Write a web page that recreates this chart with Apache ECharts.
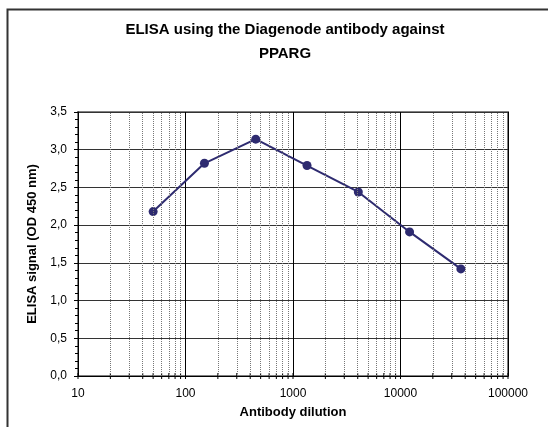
<!DOCTYPE html>
<html>
<head>
<meta charset="utf-8">
<script src="https://cdn.jsdelivr.net/npm/echarts@6/dist/echarts.min.js"></script>
<style>
    html, body { margin: 0; padding: 0; background: #fff; }
    #chart { width: 548px; height: 427px; }
</style>
</head>
<body>
<div id="chart"></div>
<script>
(function () {
    'use strict';

    var dilutions = [50, 150, 450, 1350, 4050, 12150, 36450];
    var signal = [2.18, 2.82, 3.14, 2.79, 2.44, 1.91, 1.42];
    var decades = [10, 100, 1000, 10000, 100000];
    var minorSteps = [2, 3, 4, 5, 6, 7, 8, 9];

    var FONT = 'Liberation Sans';
    var LINE_COLOR = '#2e2b70';

    var minorValues = [];
    for (var i = 0; i < decades.length - 1; i++) {
        for (var j = 0; j < minorSteps.length; j++) {
            minorValues.push(decades[i] * minorSteps[j]);
        }
    }
    var tickValues = decades.concat(minorValues);

    var chart = echarts.init(document.getElementById('chart'), null, {renderer: 'canvas'});

    var option = {
        animation: false,
        backgroundColor: '#fff',
        title: {
            text: 'ELISA using the Diagenode antibody against\nPPARG',
            left: 285,
            top: 18,
            padding: 0,
            textAlign: 'center',
            textStyle: {
                fontFamily: FONT,
                fontSize: 15,
                fontWeight: 'bold',
                color: '#000',
                lineHeight: 24
            }
        },
        graphic: [{
            type: 'rect',
            silent: true,
            shape: {x: 7.5, y: 9.5, width: 700, height: 500},
            style: {fill: null, stroke: '#333', lineWidth: 2}
        }],
        grid: {
            left: 78,
            right: 40,
            top: 112,
            bottom: 51,
            show: true,
            borderColor: '#808080',
            borderWidth: 2
        },
        xAxis: {
            type: 'log',
            logBase: 10,
            min: 10,
            max: 100000,
            name: 'Antibody dilution',
            nameLocation: 'middle',
            nameGap: 30,
            nameTextStyle: {fontFamily: FONT, fontSize: 13, fontWeight: 'bold', color: '#000'},
            axisLine: {lineStyle: {color: '#000', width: 1}},
            axisTick: {show: false},
            axisLabel: {
                fontFamily: FONT,
                fontSize: 12,
                color: '#000',
                margin: 12,
                formatter: function (v) { return String(Math.round(v)); }
            },
            splitLine: {show: true, lineStyle: {color: '#000', width: 1}}
        },
        yAxis: {
            type: 'value',
            min: 0,
            max: 3.5,
            interval: 0.5,
            name: 'ELISA signal (OD 450 nm)',
            nameLocation: 'middle',
            nameGap: 34,
            nameTextStyle: {fontFamily: FONT, fontSize: 13, fontWeight: 'bold', color: '#000'},
            axisLine: {show: true, lineStyle: {color: '#000', width: 1}},
            axisTick: {show: true, length: 4, lineStyle: {color: '#000'}},
            minorTick: {show: true, splitNumber: 5, length: 3, lineStyle: {color: '#000'}},
            axisLabel: {
                fontFamily: FONT,
                fontSize: 12,
                color: '#000',
                margin: 11,
                formatter: function (v) {
                    return v.toFixed(1).replace('.', ',');
                }
            },
            splitLine: {show: true, lineStyle: {color: '#333', width: 1}}
        },
        series: [
            {
                type: 'custom',
                silent: true,
                clip: false,
                z: 1,
                data: tickValues.map(function (v) { return [v, 0]; }),
                renderItem: function (params, api) {
                    var p = api.coord([api.value(0), 0]);
                    return {
                        type: 'line',
                        shape: {x1: p[0], y1: p[1] - 3, x2: p[0], y2: p[1] + 3},
                        style: {stroke: '#000', lineWidth: 1}
                    };
                },
                markLine: {
                    silent: true,
                    symbol: 'none',
                    label: {show: false},
                    lineStyle: {color: '#777', type: 'dotted', width: 1},
                    data: minorValues.map(function (v) { return {xAxis: v}; })
                }
            },
            {
                type: 'line',
                z: 3,
                data: dilutions.map(function (d, k) { return [d, signal[k]]; }),
                symbol: 'circle',
                symbolSize: 9,
                lineStyle: {color: LINE_COLOR, width: 2},
                itemStyle: {color: LINE_COLOR}
            }
        ]
    };

    chart.setOption(option);
})();
</script>
</body>
</html>
